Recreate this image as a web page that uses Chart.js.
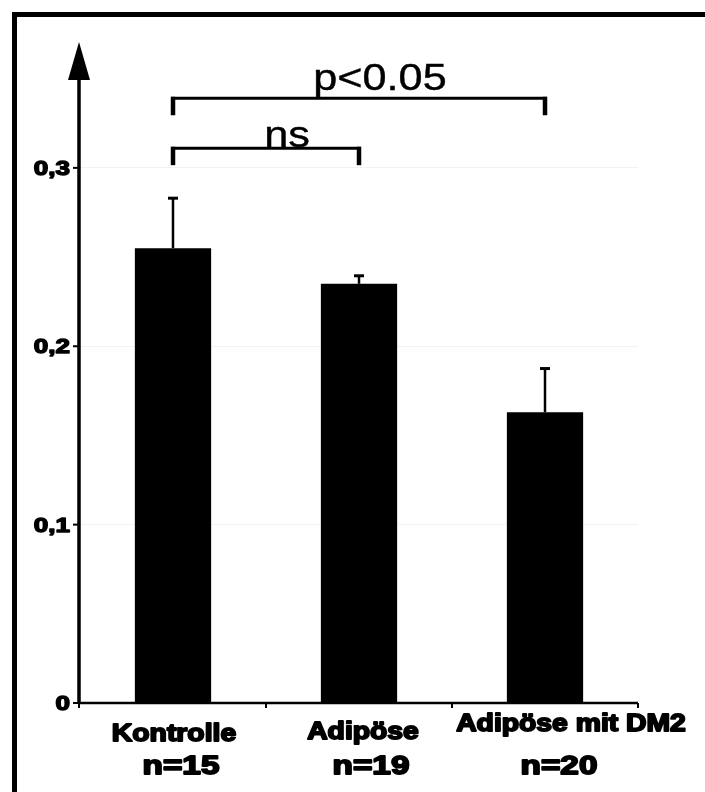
<!DOCTYPE html>
<html><head><meta charset="utf-8">
<script src="https://cdn.jsdelivr.net/npm/chart.js@4"></script>
<style>html,body{margin:0;padding:0;background:#fff}#wrap{width:705px;height:792px;position:relative}</style>
</head><body><div id="wrap"><canvas id="c" width="705" height="792"></canvas></div>
<script>
const categories = ['Kontrolle', 'Adipöse', 'Adipöse mit DM2'];
const sampleSizes = ['n=15', 'n=19', 'n=20'];
const means = [0.255, 0.235, 0.163];
const errors = [0.028, 0.0045, 0.0245];
const yTickValues = [0, 0.1, 0.2, 0.3];
const yTickLabels = ['0', '0,1', '0,2', '0,3'];
const comparisons = [
  { from: 0, to: 2, label: 'p<0.05' },
  { from: 0, to: 1, label: 'ns' }
];

function sText(ctx, txt, x, y, font, sx, align, stroke) {
  ctx.save();
  ctx.font = font;
  ctx.textBaseline = 'alphabetic';
  ctx.textAlign = 'left';
  const w = ctx.measureText(txt).width * sx;
  const left = align === 'center' ? x - w / 2 : align === 'right' ? x - w : x;
  ctx.translate(left, y);
  ctx.scale(sx, 1);
  ctx.fillStyle = '#000';
  ctx.fillText(txt, 0, 0);
  if (stroke) {
    ctx.lineWidth = stroke; ctx.strokeStyle = '#000'; ctx.lineJoin = 'round';
    ctx.strokeText(txt, 0, 0);
  }
  ctx.restore();
}

const decor = {
  id: 'decor',
  beforeDraw(chart) {
    const c = chart.ctx;
    c.save(); c.fillStyle = '#fff'; c.fillRect(0, 0, chart.width, chart.height); c.restore();
  },
  afterDraw(chart) {
    const c = chart.ctx;
    const xs = chart.scales.x, ys = chart.scales.y;
    const area = chart.chartArea;
    c.save();
    c.fillStyle = '#000';
    c.strokeStyle = '#000';
    // frame (top and left)
    c.fillRect(12, 12, chart.width - 12, 5);
    c.fillRect(12, 12, 5, chart.height - 12);

    const x0 = area.left - 1, y0 = ys.getPixelForValue(0);
    // y axis with arrow
    c.lineWidth = 3.5;
    c.beginPath(); c.moveTo(x0, y0 + 1); c.lineTo(x0, area.top + 36); c.stroke();
    c.beginPath(); c.moveTo(x0, area.top - 1); c.lineTo(x0 - 11, area.top + 37); c.lineTo(x0 + 11, area.top + 37); c.closePath(); c.fill();
    // x axis
    c.lineWidth = 2.5;
    c.beginPath(); c.moveTo(x0, y0); c.lineTo(area.right, y0); c.stroke();
    // x ticks at category boundaries
    const catW = (area.right - area.left) / categories.length;
    c.lineWidth = 2;
    for (let i = 0; i <= categories.length; i++) {
      const xx = i === 0 ? x0 : area.left + i * catW;
      c.beginPath(); c.moveTo(xx, y0); c.lineTo(xx, y0 + 5); c.stroke();
    }
    // y ticks + labels
    yTickValues.forEach((v, i) => {
      const yy = ys.getPixelForValue(v);
      c.lineWidth = 2;
      c.beginPath(); c.moveTo(x0 - 6, yy); c.lineTo(x0, yy); c.stroke();
      sText(c, yTickLabels[i], x0 - 9, yy + 7, 'bold 20px "Liberation Sans", Arial, sans-serif', 1.3, 'right', 1.4);
    });

    // error bars (upper only)
    means.forEach((m, i) => {
      const xx = xs.getPixelForValue(i);
      const yb = ys.getPixelForValue(m);
      const yt = ys.getPixelForValue(m + errors[i]);
      c.lineWidth = 2.5;
      c.beginPath(); c.moveTo(xx, yb); c.lineTo(xx, yt); c.stroke();
      c.lineWidth = 3;
      c.beginPath(); c.moveTo(xx - 5, yt); c.lineTo(xx + 5, yt); c.stroke();
    });

    // significance brackets
    const levels = [0.339, 0.311];
    const drops = [0.0095, 0.0095];
    const textDy = [-8, -1];
    comparisons.forEach((cmp, k) => {
      const xa = xs.getPixelForValue(cmp.from);
      const xb = xs.getPixelForValue(cmp.to);
      const yl = ys.getPixelForValue(levels[k]);
      const yd = ys.getPixelForValue(levels[k] - drops[k]);
      c.lineWidth = 3;
      c.beginPath(); c.moveTo(xa - 2, yl); c.lineTo(xb + 2, yl); c.stroke();
      c.lineWidth = 4.5;
      c.beginPath(); c.moveTo(xa, yl - 1.5); c.lineTo(xa, yd); c.stroke();
      c.beginPath(); c.moveTo(xb, yl - 1.5); c.lineTo(xb, yd); c.stroke();
      sText(c, cmp.label, (xa + xb) / 2 + 21, yl + textDy[k], '36px "Liberation Sans", Arial, sans-serif', 1.2, 'center', 0.4);
    });

    // category labels
    const catDx = [1, 4, 26], catY = [741, 739, 731];
    const nDx = [8, 12, 14];
    categories.forEach((lab, i) => {
      const xx = xs.getPixelForValue(i);
      sText(c, lab, xx + catDx[i], catY[i], 'bold 24px "Liberation Sans", Arial, sans-serif', 1.18, 'center', 1.8);
      sText(c, sampleSizes[i], xx + nDx[i], 774, 'bold 26px "Liberation Sans", Arial, sans-serif', 1.28, 'center', 1.8);
    });
    c.restore();
  }
};

new Chart(document.getElementById('c'), {
  type: 'bar',
  data: {
    labels: categories,
    datasets: [{
      data: means,
      backgroundColor: '#000',
      borderWidth: 0,
      categoryPercentage: 1,
      barPercentage: 0.41
    }]
  },
  options: {
    responsive: false,
    animation: false,
    devicePixelRatio: 1,
    layout: { padding: { top: 43, right: 67, left: 0, bottom: 0 } },
    plugins: { legend: { display: false }, tooltip: { enabled: false } },
    scales: {
      x: {
        grid: { display: false }, border: { display: false },
        ticks: { display: false },
        afterFit(s) { s.height = 89; }
      },
      y: {
        min: 0, max: 0.37,
        grid: { color: '#f2f2f2', drawTicks: false, lineWidth: 1 },
        border: { display: false },
        ticks: { display: false },
        afterBuildTicks(s) { s.ticks = yTickValues.map(v => ({ value: v })); },
        afterFit(s) { s.width = 80; }
      }
    }
  },
  plugins: [decor]
});
</script>
</body></html>
